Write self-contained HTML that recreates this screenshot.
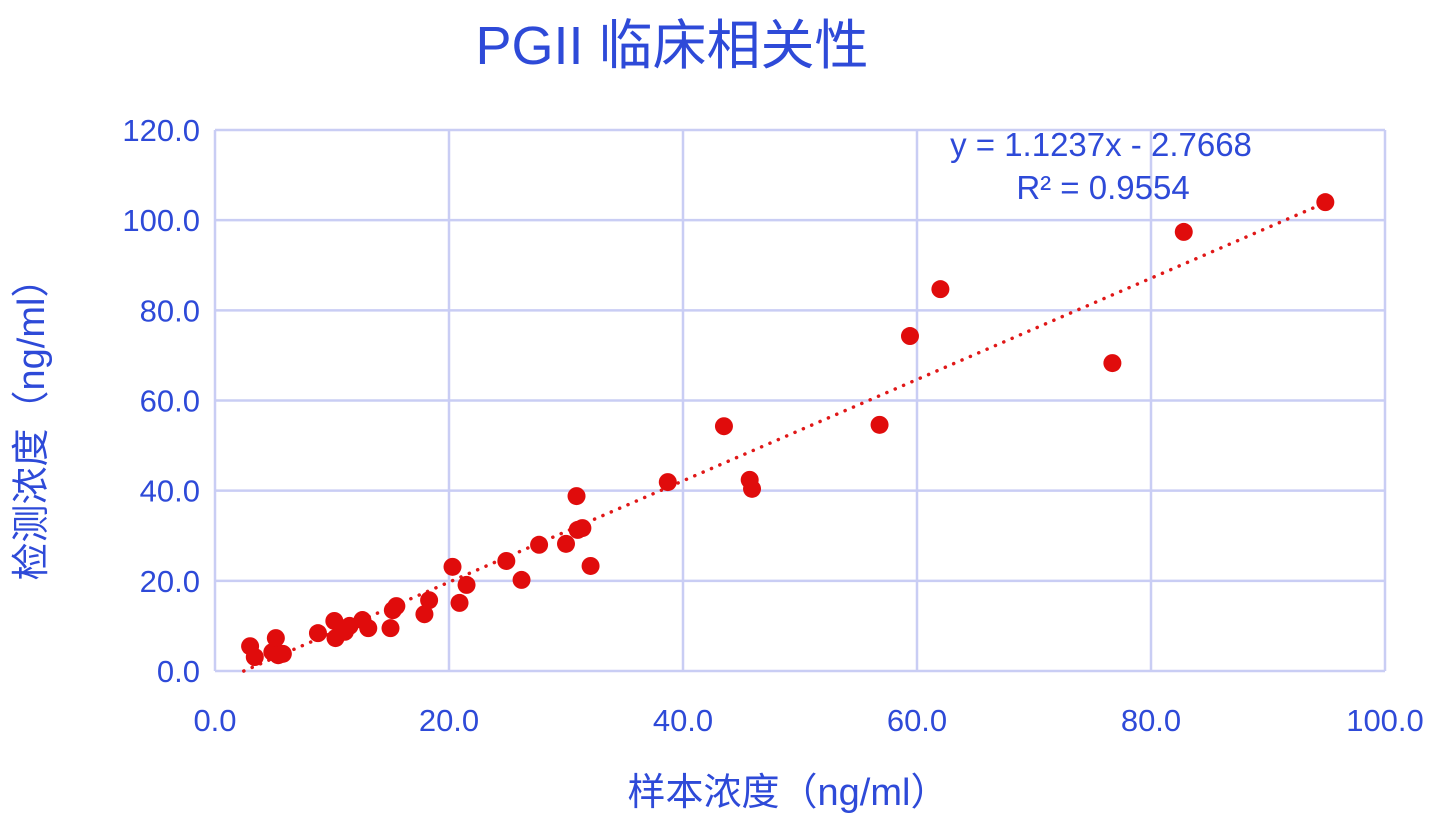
<!DOCTYPE html>
<html><head><meta charset="utf-8"><style>
body{margin:0;background:#fff;}
svg{display:block;}
text{font-family:"Liberation Sans","Noto Sans CJK SC",sans-serif;fill:#2e4ad8;}
</style></head><body>
<svg id="chart" width="1433" height="824">
<text x="672" y="64" font-size="54" text-anchor="middle">PGII 临床相关性</text>
<g id="grid"></g><g id="ticks"></g><g id="trend"></g><g id="pts"></g>
<text x="1101" y="156" font-size="33" text-anchor="middle">y = 1.1237x - 2.7668</text>
<text x="1103" y="199" font-size="33" text-anchor="middle">R² = 0.9554</text>
<text x="788" y="805" font-size="38" text-anchor="middle">样本浓度（ng/ml）</text>
<text x="0" y="0" font-size="38" text-anchor="middle" transform="translate(44,420) rotate(-90)">检测浓度（ng/ml）</text>
</svg>
<script>
const xVals=[3.0,3.4,4.9,5.2,5.4,5.8,8.8,10.2,10.3,11.1,11.5,12.6,13.1,15.0,15.2,15.5,17.9,18.3,20.3,20.9,21.5,24.9,26.2,27.7,30.0,30.9,31.0,31.4,32.1,38.7,43.5,45.7,45.9,56.8,59.4,62.0,76.7,82.8,94.9];
const yVals=[5.5,3.1,4.2,7.3,3.5,3.8,8.4,11.1,7.3,8.7,10.0,11.3,9.5,9.5,13.5,14.4,12.6,15.7,23.1,15.1,19.1,24.4,20.2,28.0,28.2,38.8,31.3,31.7,23.3,41.9,54.3,42.4,40.4,54.6,74.3,84.7,68.3,97.4,104.0];
const xTicks=[0,20,40,60,80,100];
const yTicks=[0,20,40,60,80,100,120];
const slope=1.1237, intercept=-2.7668;
const X0=215,X1=1385,Y0=671,Y1=130;
const sx=v=>X0+(X1-X0)*v/100, sy=v=>Y0-(Y0-Y1)*v/120;
const NS="http://www.w3.org/2000/svg";
function mk(t,a,p){const e=document.createElementNS(NS,t);for(const k in a)e.setAttribute(k,a[k]);p.appendChild(e);return e;}
const g=document.getElementById('grid'),tk=document.getElementById('ticks');
xTicks.forEach(v=>{const l=mk('line',{x1:sx(v),x2:sx(v),y1:Y1,y2:Y0,stroke:'#c9cdf4','stroke-width':2.5},g);


const t=mk('text',{x:sx(v),y:731,'font-size':31,'text-anchor':'middle'},tk);t.textContent=v.toFixed(1);

});
yTicks.forEach(v=>{const l=mk('line',{x1:X0,x2:X1,y1:sy(v),y2:sy(v),stroke:'#c9cdf4','stroke-width':2.5},g);


const t=mk('text',{x:200,y:sy(v)+11,'font-size':31,'text-anchor':'end'},tk);t.textContent=v.toFixed(1);

});
const xs=-intercept/slope, xe=Math.max(...xVals);
const tl=mk('line',{x1:sx(xs),y1:sy(0),x2:sx(xe),y2:sy(slope*xe+intercept),stroke:'#e01818','stroke-width':3.5,'stroke-dasharray':'0.1 9','stroke-linecap':'round'},document.getElementById('trend'));


const pg=document.getElementById('pts');
xVals.forEach((v,i)=>{const c=mk('circle',{cx:sx(v),cy:sy(yVals[i]),r:9,fill:'#e00c0c'},pg);

});
</script>
</body></html>
